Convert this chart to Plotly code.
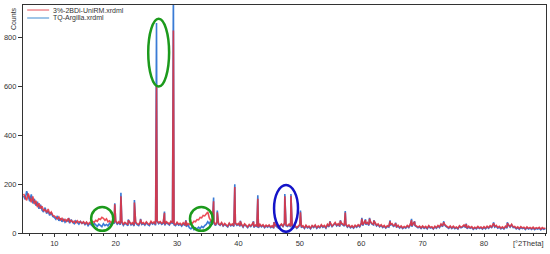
import plotly.graph_objects as go

# ---------------- data ----------------
START = 5.0
STEP = 0.25

blue_base_rows = [
    [152, 138, 171, 146, 130, 158, 121, 140, 112, 128, 99, 116, 94, 86, 104, 80, 90, 72, 84, 68],
    [64, 56, 70, 50, 60, 46, 58, 44, 52, 48, 40, 55, 44, 38, 50, 41, 36, 47, 39, 44],
    [34, 42, 30, 39, 35, 28, 40, 33, 27, 36, 31, 26, 38, 30, 35, 29, 40, 33, 44, 38],
    [46, 36, 42, 34, 44, 31, 40, 35, 30, 42, 33, 38, 29, 41, 34, 30, 44, 35, 39, 32],
    [42, 34, 30, 45, 36, 41, 32, 47, 38, 44, 35, 40, 31, 43, 37, 33, 45, 38, 34, 30],
    [40, 32, 36, 28, 38, 31, 26, 34, 22, 17, 25, 14, 21, 16, 24, 18, 27, 22, 30, 35],
    [46, 38, 50, 34, 42, 30, 44, 36, 31, 40, 28, 36, 30, 25, 38, 29, 34, 27, 39, 31],
    [36, 27, 33, 24, 35, 28, 22, 32, 26, 34, 23, 30, 27, 21, 33, 25, 31, 22, 29, 24],
    [30, 22, 27, 19, 31, 24, 20, 28, 34, 26, 38, 30, 27, 34, 24, 30, 21, 27, 19, 25],
    [33, 22, 27, 18, 29, 21, 25, 17, 28, 22, 30, 19, 26, 21, 31, 23, 28, 20, 33, 25],
    [36, 26, 32, 40, 29, 35, 26, 38, 31, 28, 34, 24, 30, 21, 27, 20, 29, 23, 31, 25],
    [38, 30, 42, 34, 40, 31, 44, 36, 33, 40, 29, 34, 25, 31, 22, 28, 20, 27, 24, 33],
    [36, 27, 31, 23, 29, 20, 26, 18, 24, 20, 28, 22, 33, 26, 38, 30, 27, 21, 25, 18],
    [26, 19, 24, 17, 27, 20, 23, 16, 25, 19, 28, 22, 34, 26, 36, 28, 24, 19, 26, 18],
    [25, 18, 22, 16, 27, 21, 24, 30, 22, 17, 25, 19, 23, 15, 21, 17, 24, 18, 22, 16],
    [23, 17, 25, 19, 27, 22, 32, 24, 28, 20, 24, 17, 22, 16, 25, 20, 31, 24, 33, 22],
    [24, 17, 22, 15, 23, 18, 21, 14, 22, 16, 20, 15, 21, 14, 19, 16, 20, 13, 19, 15],
    [18],
]

red_base_rows = [
    [160, 148, 134, 162, 140, 126, 150, 118, 132, 106, 122, 100, 110, 92, 96, 84, 98, 78, 86, 72],
    [70, 62, 58, 66, 54, 60, 50, 56, 48, 58, 46, 52, 44, 49, 41, 50, 43, 47, 40, 46],
    [38, 45, 36, 43, 40, 47, 44, 52, 48, 58, 55, 64, 60, 52, 58, 46, 50, 42, 48, 45],
    [50, 40, 46, 38, 48, 36, 44, 39, 34, 46, 37, 42, 33, 45, 38, 35, 47, 39, 43, 36],
    [46, 38, 35, 48, 40, 45, 36, 50, 42, 47, 39, 44, 35, 46, 41, 37, 48, 42, 38, 34],
    [44, 36, 40, 33, 42, 35, 30, 39, 34, 42, 40, 48, 46, 55, 54, 64, 62, 72, 70, 80],
    [86, 62, 52, 40, 46, 33, 48, 38, 34, 43, 31, 39, 33, 28, 41, 32, 37, 30, 42, 34],
    [39, 30, 36, 27, 38, 31, 25, 35, 29, 37, 26, 33, 30, 24, 36, 28, 34, 25, 32, 27],
    [33, 25, 30, 22, 34, 27, 23, 31, 37, 29, 41, 33, 30, 37, 27, 33, 24, 30, 22, 28],
    [36, 25, 30, 21, 32, 24, 28, 20, 31, 25, 33, 22, 29, 24, 34, 26, 31, 23, 36, 28],
    [39, 29, 35, 43, 32, 38, 29, 41, 34, 31, 37, 27, 33, 24, 30, 23, 32, 26, 34, 28],
    [41, 33, 45, 37, 43, 34, 47, 39, 36, 43, 32, 37, 28, 34, 25, 31, 23, 30, 27, 36],
    [39, 30, 34, 26, 32, 23, 29, 21, 27, 23, 31, 25, 36, 29, 41, 33, 30, 24, 28, 21],
    [29, 22, 27, 20, 30, 23, 26, 19, 28, 22, 31, 25, 37, 29, 39, 31, 27, 22, 29, 21],
    [28, 21, 25, 19, 30, 24, 27, 33, 25, 20, 28, 22, 26, 18, 24, 20, 27, 21, 25, 19],
    [26, 20, 28, 22, 30, 25, 35, 27, 31, 23, 27, 20, 25, 19, 28, 23, 34, 27, 36, 25],
    [27, 20, 25, 18, 26, 21, 24, 17, 25, 19, 23, 18, 24, 17, 22, 19, 23, 16, 22, 18],
    [21],
]

peak_pos = [12.35, 19.85, 20.85, 22.05, 23.05, 24.05, 26.65, 27.95, 29.4, 31.45,
            35.95, 36.55, 39.4, 40.3, 42.45, 43.15, 45.8, 47.55, 48.55, 50.1,
            54.9, 56.6, 57.4, 60.1, 60.7, 61.35, 62.05, 64.7, 65.6, 68.2,
            68.7, 73.45, 77.1, 81.55, 83.8]
blue_peaks = [62, 122, 165, 55, 135, 58, 860, 88, 1000, 52,
              145, 92, 200, 50, 48, 155, 45, 160, 160, 92,
              48, 52, 90, 62, 56, 62, 52, 52, 42, 58,
              48, 48, 38, 44, 44]
red_peaks = [58, 118, 150, 52, 125, 55, 600, 82, 830, 50,
             130, 85, 188, 48, 46, 140, 44, 150, 152, 85,
             46, 50, 84, 58, 52, 58, 50, 48, 40, 52,
             46, 44, 36, 40, 40]

names = ["3%-2BDi-UniRM.xrdml", "TQ-Argilla.xrdml"]
y_ticks = [0, 200, 400, 600, 800]
x_ticks = [10, 20, 30, 40, 50, 60, 70, 80]


def build(rows, peaks):
    base = [v for r in rows for v in r]
    grid = [START + i * STEP for i in range(len(base))]
    pts = list(zip(grid, base)) + list(zip(peak_pos, peaks))
    pts.sort(key=lambda p: p[0])
    return [p[0] for p in pts], [p[1] for p in pts]


bx, by = build(blue_base_rows, blue_peaks)
rx, ry = build(red_base_rows, red_peaks)

RED = "#e8303a"
BLUE = "#3a7bd5"
RED_LEG = "#f08a90"
BLUE_LEG = "#7fb2e0"

fig = go.Figure()
fig.add_trace(go.Scatter(x=bx, y=by, mode="lines", name=names[1],
                         line=dict(color=BLUE, width=1.6), showlegend=False))
fig.add_trace(go.Scatter(x=rx, y=ry, mode="lines", name=names[0],
                         line=dict(color=RED, width=1.6), opacity=0.85,
                         showlegend=False))

# legend (drawn compactly like the original)
for i, (nm, col) in enumerate([(names[0], RED_LEG), (names[1], BLUE_LEG)]):
    yp = 0.978 - i * 0.035
    fig.add_shape(type="line", xref="paper", yref="paper", x0=0.008, x1=0.050,
                  y0=yp, y1=yp, line=dict(color=col, width=1.5))
    fig.add_annotation(text=nm, xref="paper", yref="paper", x=0.054, y=yp,
                       xanchor="left", yanchor="middle", showarrow=False,
                       font=dict(size=7, color="#333"))

# ellipses
GREEN = "#1c9a1c"
DBLUE = "#1414c8"
ellipses = [
    (25.3, 28.7, 600, 878, GREEN),
    (16.0, 19.6, 9, 107, GREEN),
    (32.1, 35.8, 9, 107, GREEN),
    (45.8, 49.7, 5, 197, DBLUE),
]
for x0, x1, y0, y1, c in ellipses:
    fig.add_shape(type="circle", xref="x", yref="y", x0=x0, x1=x1, y0=y0, y1=y1,
                  line=dict(color=c, width=2.5))

fig.add_annotation(text="Counts", xref="paper", yref="paper", x=-0.018, y=1.0,
                   xanchor="center", yanchor="top", textangle=-90, showarrow=False,
                   font=dict(size=7, color="#333"))
fig.add_annotation(text="[°2Theta]", xref="paper", yref="paper", x=1.0, y=-0.045,
                   xanchor="right", yanchor="middle", showarrow=False,
                   font=dict(size=7.5, color="#333"))

fig.update_layout(
    width=550, height=254,
    margin=dict(l=23, r=4, t=5, b=21, autoexpand=False),
    paper_bgcolor="white", plot_bgcolor="white",
    font=dict(family="Liberation Sans, Arial, sans-serif", size=7.5, color="#333"),
    showlegend=False,
)
fig.update_xaxes(range=[4.9, 90.1], tickvals=x_ticks, ticks="outside", ticklen=3,
                 tickcolor="#333", showgrid=False, zeroline=False, automargin=False,
                 showline=True, linecolor="#333", linewidth=1.2, mirror=True,
                 minor=dict(dtick=2, ticks="outside", ticklen=2, tickcolor="#333"),
                 tickfont=dict(size=7.5))
fig.update_yaxes(range=[0, 934], tickvals=y_ticks, ticks="outside", ticklen=4,
                 tickcolor="#333", showgrid=False, zeroline=False, automargin=False,
                 showline=True, linecolor="#333", linewidth=1.2, mirror=True,
                 tickfont=dict(size=7.5))

fig.write_html("out.html", config={"displayModeBar": False},
               post_script="document.body.style.margin='0';document.body.style.padding='0';")
